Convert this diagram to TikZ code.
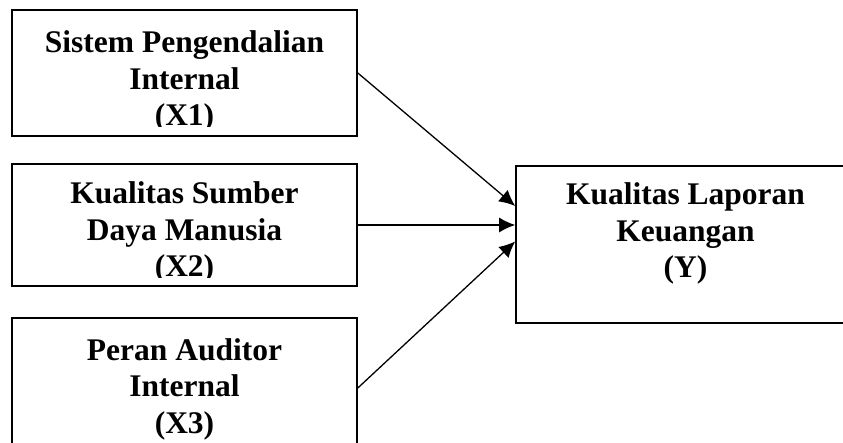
\documentclass[tikz,border=0pt]{standalone}
\usepackage{fontspec}
\setmainfont{Liberation Serif}
\usetikzlibrary{arrows.meta, positioning}
\tikzset{>={Latex[length=16pt,width=15pt]}}

\begin{document}
\begin{tikzpicture}[x=1pt, y=1pt,
    box/.style={draw, line width=1.6pt, minimum width=345pt, inner sep=0pt},
    txt/.style={font=\bfseries\fontsize{31.5}{36.5}\selectfont, align=center, inner sep=0pt},
    link/.style={->, line width=1.3pt}]

    \clip (0,0) rectangle (843,443);

    \node[box, minimum height=126pt] (X1) at (184.5,370) {};
    \node[box, minimum height=122pt] (X2) at (184.5,218) {};
    \node[box, minimum height=140pt] (X3) at (184.5,55) {};
    \node[box, minimum width=339pt, minimum height=157pt] (Y) at (685.5,198.5) {};

    % texts, the upper ones cut off as in the original
    \begin{scope}
        \clip (X1.north west) rectangle ([yshift=10pt]X1.south east);
        \node[txt, below=21.5pt of X1.north] (X1t) {Sistem Pengendalian\\Internal\\(X1)};
    \end{scope}
    \begin{scope}
        \clip (X2.north west) rectangle ([yshift=9pt]X2.south east);
        \node[txt, below=18.5pt of X2.north] (X2t) {Kualitas Sumber\\Daya Manusia\\(X2)};
    \end{scope}
    \node[txt, below=21pt of X3.north] (X3t) {Peran Auditor\\Internal\\(X3)};
    \node[txt, below=17.7pt of Y.north] (Yt) {Kualitas Laporan\\Keuangan\\(Y)};

    \draw[link] (X1.east) -- ([yshift=38.5pt]Y.west);
    \draw[link] (X2.east) -- (Y.west |- X2.east);
    \draw[link] (X3.east) -- ([yshift=3pt]Y.west);
\end{tikzpicture}
\end{document}
